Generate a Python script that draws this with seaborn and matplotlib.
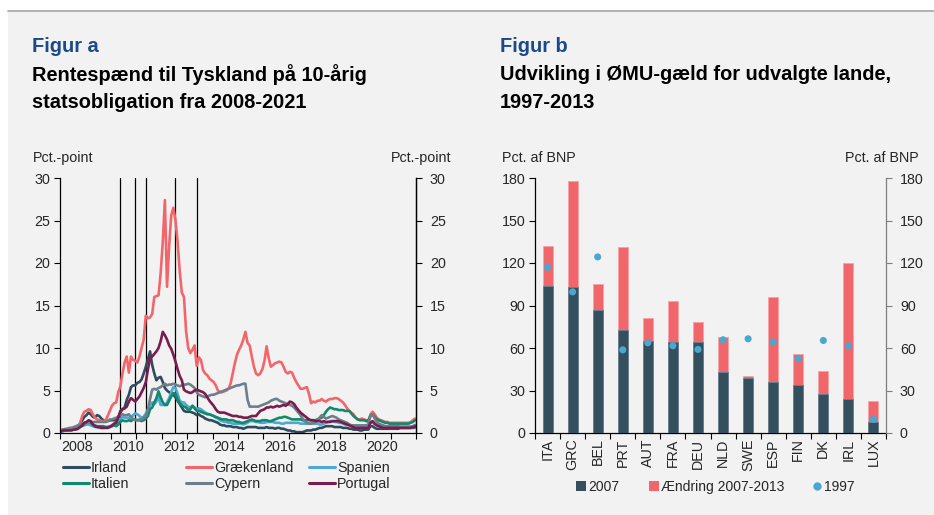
import numpy as np
import pandas as pd
import matplotlib
matplotlib.use("Agg")
import matplotlib.pyplot as plt
from matplotlib.lines import Line2D
from matplotlib.patches import Rectangle
import seaborn as sns

sns.set_theme(style="white")
plt.rcParams["font.family"] = ["Liberation Sans", "DejaVu Sans"]

# ---------------------------------------------------------------------------
# Figur a: 10-year government bond spread to Germany, monthly, pct.-points
# ---------------------------------------------------------------------------
years = list(range(2008, 2022))

irland = [
    0.3, 0.3, 0.4, 0.4, 0.4, 0.4, 0.5, 0.6, 0.8, 1.1, 1.5, 1.9,
    2.1, 2.4, 2.2, 1.9, 1.8, 2.1, 2.0, 1.7, 1.5, 1.4, 1.4, 1.5,
    1.5, 1.5, 1.5, 1.9, 2.4, 2.8, 3.0, 3.9, 4.5, 5.4, 5.6, 5.6,
    5.9, 6.0, 6.3, 7.0, 7.8, 8.7, 9.6, 8.0, 7.0, 6.2, 6.5, 6.6,
    6.0, 5.3, 5.0, 4.8, 4.6, 4.5, 4.2, 3.8, 3.4, 3.0, 2.6, 2.5,
    2.5, 2.5, 2.4, 2.3, 2.1, 2.2, 2.0, 1.9, 1.7, 1.6, 1.5, 1.5,
    1.4, 1.3, 1.2, 1.0, 0.9, 0.9, 0.8, 0.8, 0.8, 0.7, 0.7, 0.7,
    0.6, 0.6, 0.5, 0.6, 0.7, 0.7, 0.7, 0.7, 0.7, 0.6, 0.6, 0.6,
    0.6, 0.7, 0.6, 0.6, 0.6, 0.5, 0.6, 0.6, 0.5, 0.5, 0.4, 0.3,
    0.3, 0.2, 0.2, 0.1, 0.1, 0.1, 0.1, 0.2, 0.3, 0.3, 0.3, 0.4,
    0.4, 0.5, 0.6, 0.6, 0.7, 0.8, 0.8, 0.8, 0.8, 0.7, 0.7, 0.7,
    0.7, 0.6, 0.6, 0.6, 0.5, 0.5, 0.4, 0.4, 0.4, 0.3, 0.3, 0.4,
    0.4, 0.4, 0.8, 0.8, 0.6, 0.5, 0.5, 0.5, 0.5, 0.5, 0.5, 0.5,
    0.5, 0.5, 0.5, 0.5, 0.6, 0.6, 0.6, 0.6, 0.6, 0.6, 0.6, 0.65,
]

graekenland = [
    0.3, 0.4, 0.5, 0.5, 0.5, 0.6, 0.6, 0.7, 0.8, 1.2, 2.0, 2.5,
    2.6, 2.8, 2.7, 2.2, 1.8, 1.6, 1.5, 1.4, 1.4, 1.5, 2.0, 2.6,
    3.2, 3.5, 3.6, 4.8, 5.5, 7.0, 8.3, 9.0, 7.1, 9.0, 8.6, 8.5,
    8.3, 9.0, 10.0, 11.0, 13.8, 13.5, 13.6, 14.0, 16.0, 16.1, 16.2, 18.8,
    22.5, 27.4, 17.2, 22.0, 25.6, 26.5, 25.0, 22.5, 19.0, 16.5, 16.0, 12.0,
    10.0, 9.4, 9.8, 10.3, 7.9, 8.9, 8.6, 7.4, 7.0, 6.8, 6.4, 6.2,
    6.0, 5.6, 5.0, 4.8, 4.8, 4.9, 5.0, 5.2, 5.8, 7.0, 8.2, 9.2,
    9.8, 10.3, 11.0, 11.9, 10.6, 10.3, 9.0, 7.8, 7.0, 6.8, 7.0, 7.5,
    8.5, 10.2, 8.8, 7.8, 8.0, 8.2, 8.3, 8.4, 8.3, 7.8, 7.2, 7.0,
    7.2, 7.1, 6.5, 6.0, 5.6, 5.2, 5.2, 5.3, 5.4, 4.6, 3.5, 3.7,
    3.6, 3.8, 3.8, 4.0, 3.8, 3.7, 3.9, 4.0, 4.0, 4.1, 4.1, 4.0,
    3.8, 3.6, 3.3, 2.9, 2.6, 2.4, 2.2, 1.8, 1.6, 1.6, 1.7, 1.6,
    1.5, 1.3, 2.2, 2.5, 2.2, 1.8, 1.6, 1.5, 1.4, 1.3, 1.3, 1.2,
    1.2, 1.2, 1.2, 1.2, 1.2, 1.2, 1.2, 1.2, 1.2, 1.3, 1.5, 1.7,
]

spanien = [
    0.1, 0.2, 0.3, 0.3, 0.4, 0.4, 0.5, 0.5, 0.6, 0.7, 0.8, 0.9,
    1.0, 1.0, 0.9, 0.8, 0.7, 0.7, 0.6, 0.6, 0.6, 0.7, 0.7, 0.7,
    0.8, 1.0, 0.9, 1.2, 1.6, 1.9, 1.8, 1.8, 1.8, 1.7, 2.1, 2.3,
    2.2, 2.0, 1.8, 1.9, 2.3, 2.7, 3.3, 3.6, 3.4, 3.7, 4.2, 3.3,
    3.3, 3.3, 3.6, 4.1, 4.8, 5.4, 5.3, 4.6, 3.8, 3.6, 3.6, 3.3,
    3.1, 3.0, 3.2, 3.0, 2.8, 2.9, 2.8, 2.6, 2.4, 2.3, 2.2, 2.1,
    2.0, 1.8, 1.7, 1.5, 1.4, 1.3, 1.3, 1.2, 1.2, 1.1, 1.1, 1.1,
    1.1, 1.1, 1.0, 1.1, 1.2, 1.4, 1.4, 1.4, 1.3, 1.3, 1.2, 1.2,
    1.2, 1.3, 1.3, 1.3, 1.3, 1.2, 1.2, 1.2, 1.1, 1.1, 1.2, 1.2,
    1.2, 1.2, 1.2, 1.2, 1.2, 1.1, 1.1, 1.1, 1.1, 1.1, 1.1, 1.1,
    1.1, 1.1, 1.0, 1.0, 1.1, 1.2, 1.3, 1.4, 1.4, 1.3, 1.3, 1.2,
    1.2, 1.1, 1.0, 1.0, 1.0, 0.9, 0.8, 0.8, 0.8, 0.7, 0.7, 0.7,
    0.7, 0.7, 1.2, 1.3, 1.0, 0.9, 0.8, 0.7, 0.7, 0.7, 0.7, 0.6,
    0.6, 0.6, 0.6, 0.7, 0.7, 0.7, 0.7, 0.7, 0.7, 0.7, 0.7, 0.75,
]

italien = [
    0.3, 0.4, 0.4, 0.4, 0.4, 0.4, 0.5, 0.5, 0.6, 0.8, 0.9, 1.1,
    1.2, 1.3, 1.2, 1.0, 0.9, 0.8, 0.8, 0.8, 0.8, 0.7, 0.7, 0.8,
    0.8, 0.9, 0.8, 1.0, 1.3, 1.5, 1.4, 1.4, 1.5, 1.4, 1.6, 1.6,
    1.5, 1.5, 1.4, 1.5, 1.7, 2.0, 2.8, 3.0, 3.6, 4.1, 4.9, 4.2,
    3.6, 3.3, 3.3, 3.8, 4.3, 4.7, 4.6, 4.0, 3.5, 3.3, 3.1, 3.0,
    2.7, 2.8, 3.2, 2.9, 2.6, 2.6, 2.5, 2.4, 2.3, 2.2, 2.2, 2.1,
    2.0, 1.9, 1.8, 1.7, 1.6, 1.6, 1.6, 1.5, 1.5, 1.5, 1.4, 1.3,
    1.3, 1.2, 1.2, 1.3, 1.4, 1.5, 1.6, 1.5, 1.4, 1.4, 1.4, 1.5,
    1.5, 1.5, 1.4, 1.4, 1.5, 1.6, 1.7, 1.8, 1.8, 1.9, 1.9, 1.8,
    1.7, 1.6, 1.6, 1.6, 1.6, 1.6, 1.5, 1.5, 1.5, 1.5, 1.5, 1.5,
    1.5, 1.6, 1.7, 1.8, 2.1, 2.5, 2.8, 3.0, 2.9, 2.8, 2.8, 2.7,
    2.7, 2.7, 2.6, 2.6, 2.6, 2.3, 2.0, 1.8, 1.6, 1.5, 1.5, 1.5,
    1.4, 1.5, 2.0, 2.2, 1.9, 1.6, 1.5, 1.4, 1.3, 1.2, 1.2, 1.1,
    1.1, 1.1, 1.1, 1.1, 1.1, 1.1, 1.1, 1.1, 1.1, 1.2, 1.3, 1.5,
]

cypern = [
    0.3, 0.4, 0.4, 0.5, 0.6, 0.6, 0.7, 0.8, 0.9, 1.0, 1.1, 1.2,
    1.2, 1.3, 1.3, 1.3, 1.3, 1.3, 1.3, 1.3, 1.3, 1.3, 1.4, 1.6,
    1.6, 1.7, 1.8, 1.9, 2.1, 2.2, 2.1, 2.1, 2.2, 1.9, 1.6, 1.5,
    1.5, 1.6, 1.6, 1.8, 2.0, 2.8, 4.0, 5.1, 5.2, 5.1, 5.3, 5.4,
    5.6, 5.8, 5.6, 5.7, 5.7, 5.8, 5.7, 5.6, 5.5, 5.6, 5.7, 5.7,
    5.8, 5.7, 5.5, 5.3, 4.8, 4.5, 4.4, 4.3, 4.2, 4.3, 4.4, 4.5,
    4.5, 4.6, 4.7, 4.8, 4.9, 5.0, 5.1, 5.2, 5.3, 5.4, 5.5, 5.6,
    5.6, 5.7, 5.8, 5.8, 3.9, 3.1, 3.1, 3.1, 3.1, 3.1, 3.2, 3.3,
    3.4, 3.5, 3.6, 3.8, 3.9, 4.0, 4.0, 3.8, 3.7, 3.6, 3.5, 3.4,
    3.3, 3.2, 3.0, 2.7, 2.4, 2.1, 1.7, 1.4, 1.2, 1.1, 1.1, 1.2,
    1.3, 1.5, 1.8, 2.1, 1.9, 1.7, 1.8, 1.9, 2.0, 1.9, 1.8, 1.6,
    1.5, 1.4, 1.3, 1.2, 1.0, 0.9, 0.9, 0.9, 0.9, 0.9, 0.9, 0.9,
    0.9, 1.0, 2.0, 2.2, 1.7, 1.3, 1.1, 1.0, 0.9, 0.8, 0.8, 0.8,
    0.8, 0.8, 0.8, 0.8, 0.75, 0.75, 0.75, 0.75, 0.75, 0.75, 0.8, 0.95,
]

portugal = [
    0.2, 0.3, 0.3, 0.3, 0.3, 0.3, 0.4, 0.4, 0.5, 0.7, 0.9, 1.2,
    1.3, 1.5, 1.4, 1.0, 0.8, 0.7, 0.7, 0.6, 0.6, 0.6, 0.6, 0.7,
    0.9, 1.1, 1.2, 1.8, 2.6, 2.8, 2.9, 3.1, 3.7, 4.1, 3.9, 3.7,
    4.0, 4.3, 4.8, 5.3, 6.0, 7.5, 8.8, 9.0, 9.3, 9.6, 10.0, 10.8,
    11.9, 11.5, 11.0, 10.3, 9.9, 9.2, 8.4, 7.5, 6.7, 6.2, 5.1, 4.9,
    4.8, 4.7, 4.8, 5.0, 5.1, 5.0, 4.9, 4.8, 4.6, 4.2, 3.8, 3.5,
    3.2, 2.8, 2.5, 2.4, 2.4, 2.4, 2.3, 2.2, 2.1, 2.0, 2.0, 2.0,
    1.9, 1.9, 1.8, 1.8, 1.8, 1.9, 2.0, 2.0, 2.0, 2.3, 2.6, 2.7,
    2.8, 3.0, 3.0, 3.1, 3.0, 3.1, 3.2, 3.1, 3.2, 3.3, 3.2, 3.4,
    3.7, 3.6, 3.4, 3.0, 2.7, 2.4, 2.2, 2.0, 1.8, 1.6, 1.5, 1.5,
    1.4, 1.4, 1.4, 1.3, 1.4, 1.3, 1.3, 1.3, 1.4, 1.4, 1.4, 1.4,
    1.3, 1.2, 1.1, 1.0, 0.9, 0.8, 0.7, 0.6, 0.6, 0.6, 0.6, 0.6,
    0.6, 0.6, 1.2, 1.4, 1.1, 0.9, 0.8, 0.7, 0.6, 0.6, 0.6, 0.6,
    0.6, 0.6, 0.6, 0.6, 0.6, 0.6, 0.6, 0.6, 0.6, 0.6, 0.7, 0.75,
]

# Rescue packages marked as vertical lines (decimal year)
redningspakker = [2010.37, 2010.96, 2011.37, 2012.54, 2013.37]

lande_a = ["Irland", "Grækenland", "Spanien", "Italien", "Cypern", "Portugal"]
farver_a = ["#2f4b5e", "#f2666b", "#4ea8d3", "#108a6c", "#6e7f8b", "#7a1c4e"]
serier_a = [irland, graekenland, spanien, italien, cypern, portugal]
aar_labels = ["2008", "2010", "2012", "2014", "2016", "2018", "2020"]

# ---------------------------------------------------------------------------
# Figur b: EMU debt, pct. of GDP
# ---------------------------------------------------------------------------
lande_b = ["ITA", "GRC", "BEL", "PRT", "AUT", "FRA", "DEU",
           "NLD", "SWE", "ESP", "FIN", "DK", "IRL", "LUX"]
gaeld_2007 = [103.8, 103.1, 87.0, 72.7, 64.6, 64.4, 64.2,
              42.9, 38.7, 35.9, 33.7, 27.4, 23.8, 8.0]
aendring_2007_2013 = [28.5, 75.0, 18.4, 58.5, 16.8, 28.8, 14.1,
                      24.6, 1.6, 59.9, 22.4, 16.5, 96.0, 14.4]
gaeld_1997 = [117.0, 99.6, 124.3, 58.7, 63.7, 61.6, 59.0,
              65.8, 66.5, 64.2, 52.4, 65.3, 61.6, 9.7]

DARK = "#34505f"
RED = "#f1666a"
BLUE = "#4aa7d0"
BG = "#f2f2f2"
NAVY = "#1b4a8a"
FS = 10.3

# ---------------------------------------------------------------------------
W, H = 934, 515
fig = plt.figure(figsize=(W / 100, H / 100), dpi=100, facecolor="white")


def fx(px):
    return px / W


def fy(py):
    return 1 - py / H


fig.patches.append(Rectangle((fx(8), 0), 1 - fx(8), fy(11), transform=fig.transFigure,
                             facecolor=BG, edgecolor="none", zorder=-10))
fig.lines.append(Line2D([fx(8), 1], [fy(10.5), fy(10.5)], transform=fig.transFigure,
                        color="#a6a6a6", lw=1.2, zorder=-9))

# Headings
for x0, fig_lbl, l1, l2 in [
    (32, "Figur a", "Rentespænd til Tyskland på 10-årig", "statsobligation fra 2008-2021"),
    (500, "Figur b", "Udvikling i ØMU-gæld for udvalgte lande,", "1997-2013"),
]:
    fig.text(fx(x0), fy(47), fig_lbl, color=NAVY, weight="bold", size=14.4, va="center", ha="left")
    fig.text(fx(x0), fy(75), l1, color="black", weight="bold", size=14.4, va="center", ha="left")
    fig.text(fx(x0), fy(103), l2, color="black", weight="bold", size=14.4, va="center", ha="left")

fig.text(fx(33), fy(158), "Pct.-point", size=FS, va="center", ha="left")
fig.text(fx(451), fy(158), "Pct.-point", size=FS, va="center", ha="right")
fig.text(fx(502), fy(158), "Pct. af BNP", size=FS, va="center", ha="left")
fig.text(fx(919), fy(158), "Pct. af BNP", size=FS, va="center", ha="right")

# ---------------------------- Figur a ------------------------------------
dato = [y + (m + 0.5) / 12 for y in years for m in range(12)]
rows = []
for land, serie in zip(lande_a, serier_a):
    for d, v in zip(dato, serie):
        rows.append((d, v, land))
df_a = pd.DataFrame(rows, columns=["dato", "spread", "land"])

ax1 = fig.add_axes([fx(60), fy(433), fx(416) - fx(60), fy(178) - fy(433)])
ax1.set_facecolor(BG)
for d in redningspakker:
    ax1.axvline(d, color="black", lw=0.9, zorder=1)
sns.lineplot(data=df_a, x="dato", y="spread", hue="land", hue_order=lande_a,
             palette=farver_a, linewidth=1.9, legend=False, ax=ax1, zorder=2)
ax1.set_xlim(2008, 2022)
ax1.set_ylim(0, 30)
ax1.set_xlabel("")
ax1.set_ylabel("")
ax1.set_yticks(range(0, 31, 5))
ax1.set_xticks(range(2008, 2023))
ax1.set_xticklabels([])
ax1.set_xticks([int(a) + 0.67 for a in aar_labels], minor=True)
ax1.set_xticklabels(aar_labels, minor=True)
ax1.tick_params(axis="x", which="major", direction="out", length=4, width=0.8,
                color="black", bottom=True)
ax1.tick_params(axis="x", which="minor", length=0, labelsize=FS, pad=5, bottom=True)
ax1.tick_params(axis="y", direction="out", length=4, width=0.8, color="black",
                labelsize=FS, pad=3, left=True)
ax1.spines["top"].set_visible(False)
for s in ["left", "right", "bottom"]:
    ax1.spines[s].set_color("black")
    ax1.spines[s].set_linewidth(0.9)

ax1r = ax1.twinx()
ax1r.set_ylim(0, 30)
ax1r.set_yticks(range(0, 31, 5))
ax1r.tick_params(axis="y", direction="out", length=4, width=0.8, color="black",
                 labelsize=FS, pad=6, right=True)
ax1r.grid(False)
for s in ["top", "left", "bottom"]:
    ax1r.spines[s].set_visible(False)
ax1r.spines["right"].set_color("black")
ax1r.spines["right"].set_linewidth(0.9)


def legend_col(handles, labels, x_px, y_px):
    fig.legend(handles, labels, loc="upper left", bbox_to_anchor=(fx(x_px), fy(y_px)),
               frameon=False, fontsize=FS, handlelength=1.8, handletextpad=0.15,
               labelspacing=0.15, borderpad=0, borderaxespad=0)


def lh(c):
    return Line2D([], [], color=c, lw=2.2)


legend_col([lh(farver_a[0]), lh(farver_a[3])], [lande_a[0], lande_a[3]], 63, 461)
legend_col([lh(farver_a[1]), lh(farver_a[4])], [lande_a[1], lande_a[4]], 186, 461)
legend_col([lh(farver_a[2]), lh(farver_a[5])], [lande_a[2], lande_a[5]], 309, 461)

# ---------------------------- Figur b ------------------------------------
df_b = pd.DataFrame({
    "land": lande_b,
    "g2007": gaeld_2007,
    "aendring": aendring_2007_2013,
    "g1997": gaeld_1997,
})
df_b["g2013"] = df_b["g2007"] + df_b["aendring"]

ax2 = fig.add_axes([fx(535), fy(433), fx(886) - fx(535), fy(178) - fy(433)])
ax2.set_facecolor(BG)
sns.barplot(data=df_b, x="land", y="g2013", color=RED, saturation=1, width=0.4,
            edgecolor="#f7a3a5", linewidth=0.7, ax=ax2, zorder=2)
sns.barplot(data=df_b, x="land", y="g2007", color=DARK, saturation=1, width=0.4,
            edgecolor="#6b8090", linewidth=0.7, ax=ax2, zorder=3)
sns.scatterplot(data=df_b, x="land", y="g1997", color=BLUE, s=26, edgecolor="none",
                ax=ax2, zorder=4)
ax2.set_xlim(-0.5, len(lande_b) - 0.5)
ax2.set_ylim(0, 180)
ax2.set_xlabel("")
ax2.set_ylabel("")
ax2.set_yticks(range(0, 181, 30))
ax2.set_xticks(np.arange(-0.5, len(lande_b), 1.0))
ax2.set_xticklabels([])
ax2.set_xticks(range(len(lande_b)), minor=True)
ax2.set_xticklabels(lande_b, minor=True, rotation=90)
ax2.tick_params(axis="x", which="major", direction="out", length=4, width=0.8,
                color="black", bottom=True)
ax2.tick_params(axis="x", which="minor", length=0, labelsize=FS, pad=4, bottom=True)
ax2.tick_params(axis="y", direction="out", length=4, width=0.8, color="black",
                labelsize=FS, pad=3, left=True)
ax2.spines["top"].set_visible(False)
ax2.spines["right"].set_visible(False)
for s in ["left", "bottom"]:
    ax2.spines[s].set_color("black")
    ax2.spines[s].set_linewidth(0.9)

ax2r = ax2.twinx()
ax2r.set_ylim(0, 180)
ax2r.set_yticks(range(0, 181, 30))
ax2r.tick_params(axis="y", direction="out", length=4, width=0.8, color="#7f7f7f",
                 labelsize=FS, pad=6, right=True)
ax2r.grid(False)
for s in ["top", "left", "bottom"]:
    ax2r.spines[s].set_visible(False)
ax2r.spines["right"].set_color("#7f7f7f")
ax2r.spines["right"].set_linewidth(0.9)


def mk(marker, c, size):
    return Line2D([], [], linestyle="none", marker=marker, color=c, markersize=size,
                  markeredgewidth=0)


for h, lbl, x in [(mk("s", DARK, 7), "2007", 577),
                  (mk("s", RED, 7), "Ændring 2007-2013", 650),
                  (mk("o", BLUE, 6), "1997", 813)]:
    fig.legend([h], [lbl], loc="center left", bbox_to_anchor=(fx(x), fy(487)),
               frameon=False, fontsize=10, handlelength=0.6, handletextpad=0.2,
               borderpad=0, borderaxespad=0)

fig.savefig("out.png", dpi=100, facecolor="white")
